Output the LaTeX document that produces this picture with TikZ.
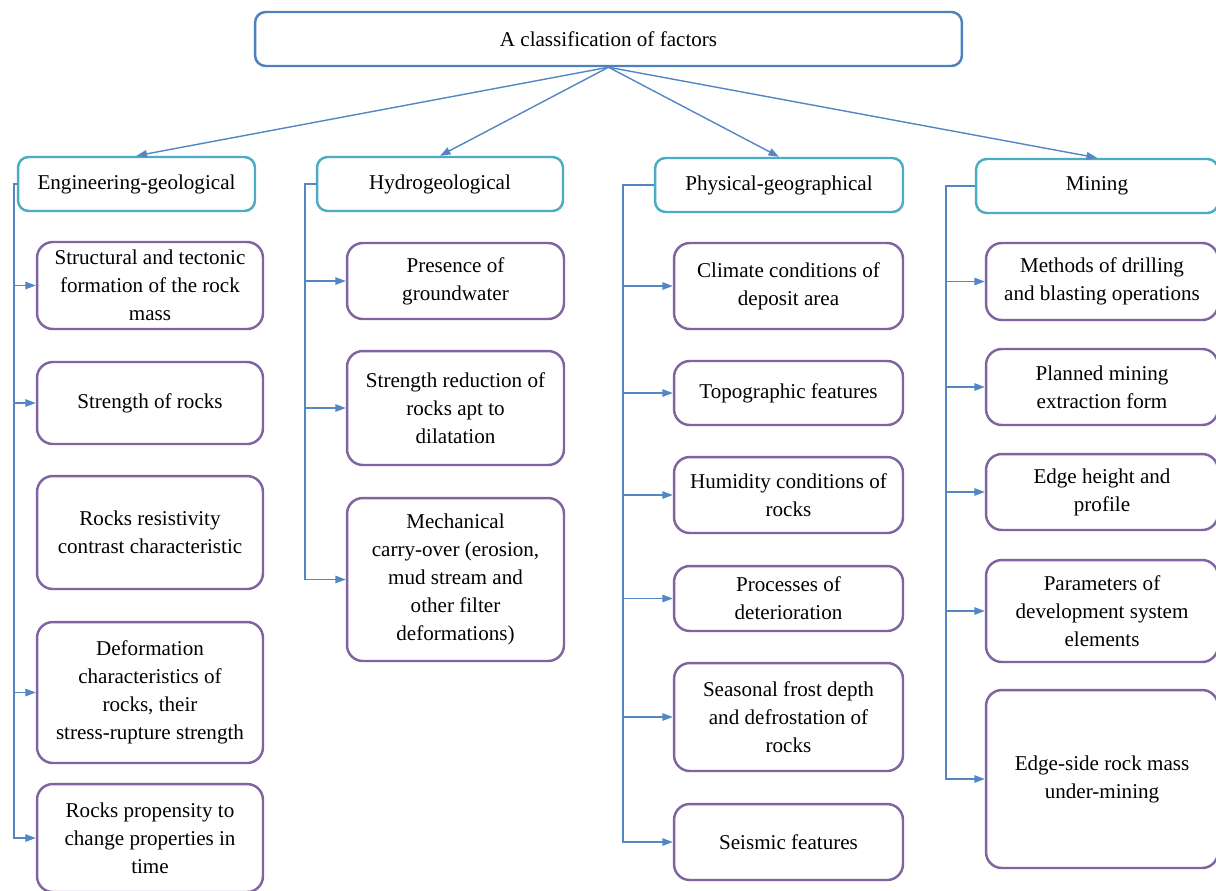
\documentclass[tikz,border=0pt]{standalone}
\usepackage{fontspec}
\setmainfont{Liberation Serif}
\usepackage{tikz}
\usetikzlibrary{arrows.meta, positioning, calc}
\definecolor{headblue}{RGB}{79, 129, 189}
\definecolor{groupteal}{RGB}{75, 172, 198}
\definecolor{factorpurple}{RGB}{128, 100, 162}
\definecolor{linkblue}{RGB}{84, 134, 196}
\tikzset{
    topbox/.style={rectangle, draw=headblue, line width=1.4pt, rounded corners=6pt, fill=white, align=center, font=\fontsize{12}{16}\selectfont},
    groupbox/.style={rectangle, draw=groupteal, line width=1.4pt, rounded corners=6pt, fill=white, align=center, minimum height=1.08cm, font=\fontsize{12}{16}\selectfont},
    factorbox/.style={rectangle, draw=factorpurple, line width=1.4pt, rounded corners=9pt, fill=white, align=center, font=\fontsize{12}{16}\selectfont},
    link/.style={draw=linkblue, line width=0.8pt, -{Triangle[length=2.1mm, width=1.5mm]}}
}
\begin{document}
\begin{tikzpicture}[x=0.02cm, y=-0.02cm]
    \clip (0,0) rectangle (1216,890);
    \fill[white] (0,0) rectangle (1216,890);

    % --- HEAD ---
    \node[topbox, minimum width=14.14cm, minimum height=1.08cm] (head) at (608.5,39) {A classification of factors};

    % --- GROUPS ---
    \node[groupbox, minimum width=4.74cm] (eng) at (136.5,184) {Engineering-geological};
    \node[groupbox, minimum width=4.92cm] (hyd) at (440,184) {Hydrogeological};
    \node[groupbox, minimum width=4.96cm] (phy) at (779,185) {Physical-geographical};
    \node[groupbox, minimum width=4.84cm] (min) at (1097,186) {Mining};

    \foreach \g in {eng, hyd, phy, min}
        \draw[link] (head.south) -- (\g.north);

    % --- ENGINEERING-GEOLOGICAL ---
    \node[factorbox, minimum width=4.52cm, minimum height=1.74cm] (eng1) at (150,285.5) {Structural and tectonic\\formation of the rock\\mass};
    \node[factorbox, minimum width=4.52cm, minimum height=1.64cm] (eng2) at (150,403) {Strength of rocks};
    \node[factorbox, minimum width=4.52cm, minimum height=2.26cm] (eng3) at (150,532.5) {Rocks resistivity\\contrast characteristic};
    \node[factorbox, minimum width=4.52cm, minimum height=2.82cm] (eng4) at (150,692.5) {Deformation\\characteristics of\\rocks, their\\stress-rupture strength};
    \node[factorbox, minimum width=4.52cm, minimum height=2.16cm] (eng5) at (150,838) {Rocks propensity to\\change properties in\\time};
    \coordinate (engT) at (14,184);
    \foreach \f in {eng1, eng2, eng4, eng5}
        \draw[link] (eng.west) -- (engT) |- (\f.west);

    % --- HYDROGEOLOGICAL ---
    \node[factorbox, minimum width=4.34cm, minimum height=1.52cm] (hyd1) at (455.5,281) {Presence of\\groundwater};
    \node[factorbox, minimum width=4.34cm, minimum height=2.28cm] (hyd2) at (455.5,408) {Strength reduction of\\rocks apt to\\dilatation};
    \node[factorbox, minimum width=4.34cm, minimum height=3.26cm] (hyd3) at (455.5,579.5) {Mechanical\\carry-over (erosion,\\mud stream and\\other filter\\deformations)};
    \coordinate (hydT) at (305,184);
    \foreach \f in {hyd1, hyd2, hyd3}
        \draw[link] (hyd.west) -- (hydT) |- (\f.west);

    % --- PHYSICAL-GEOGRAPHICAL ---
    \node[factorbox, minimum width=4.58cm, minimum height=1.72cm] (phy1) at (788.5,286) {Climate conditions of\\deposit area};
    \node[factorbox, minimum width=4.58cm, minimum height=1.28cm] (phy2) at (788.5,393) {Topographic features};
    \node[factorbox, minimum width=4.58cm, minimum height=1.52cm] (phy3) at (788.5,495) {Humidity conditions of\\rocks};
    \node[factorbox, minimum width=4.58cm, minimum height=1.30cm] (phy4) at (788.5,598.5) {Processes of\\deterioration};
    \node[factorbox, minimum width=4.58cm, minimum height=2.16cm] (phy5) at (788.5,717) {Seasonal frost depth\\and defrostation of\\rocks};
    \node[factorbox, minimum width=4.58cm, minimum height=1.52cm] (phy6) at (788.5,842) {Seismic features};
    \coordinate (phyT) at (623,185);
    \foreach \f in {phy1, phy2, phy3, phy4, phy5, phy6}
        \draw[link] (phy.west) -- (phyT) |- (\f.west);

    % --- MINING ---
    \node[factorbox, minimum width=4.64cm, minimum height=1.54cm] (min1) at (1102,281.5) {Methods of drilling\\and blasting operations};
    \node[factorbox, minimum width=4.64cm, minimum height=1.52cm] (min2) at (1102,387) {Planned mining\\extraction form};
    \node[factorbox, minimum width=4.64cm, minimum height=1.52cm] (min3) at (1102,492) {Edge height and\\profile};
    \node[factorbox, minimum width=4.64cm, minimum height=2.04cm] (min4) at (1102,611) {Parameters of\\development system\\elements};
    \node[factorbox, minimum width=4.64cm, minimum height=3.56cm] (min5) at (1102,779) {Edge-side rock mass\\under-mining};
    \coordinate (minT) at (946,186);
    \foreach \f in {min1, min2, min3, min4, min5}
        \draw[link] (min.west) -- (minT) |- (\f.west);

\end{tikzpicture}
\end{document}
